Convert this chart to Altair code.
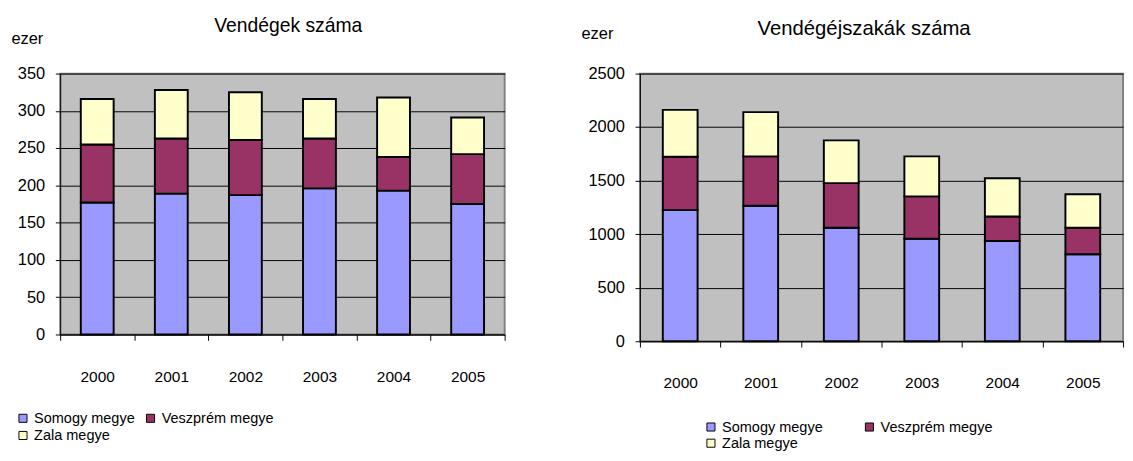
import altair as alt
import pandas as pd

years = ["2000", "2001", "2002", "2003", "2004", "2005"]
counties = ["Somogy megye", "Veszprém megye", "Zala megye"]
colors = ["#9999FF", "#993366", "#FFFFCC"]

# Vendégek száma (ezer)
guests_somogy = [177, 189, 187, 196, 193, 175]
guests_veszprem = [78, 74, 74, 67, 45, 67]
guests_zala = [61, 65, 64, 53, 80, 49]

# Vendégéjszakák száma (ezer)
nights_somogy = [1225, 1266, 1061, 957, 936, 812]
nights_veszprem = [499, 461, 416, 396, 229, 249]
nights_zala = [437, 413, 399, 374, 357, 312]

guest_ticks = [0, 50, 100, 150, 200, 250, 300, 350]
night_ticks = [0, 500, 1000, 1500, 2000, 2500]


def make_df(s, v, z):
    rows = []
    for i, y in enumerate(years):
        for k, (c, vals) in enumerate(zip(counties, [s, v, z])):
            rows.append({"year": y, "county": c, "value": vals[i], "order": k})
    return pd.DataFrame(rows)


FONT = "Liberation Sans"
BG = "#C0C0C0"
BORDER = "#808080"


def panel(df, title, ticks, w, h, bar, ezer_x, ezer_y, title_size,
          title_dx, title_offset, leg_x, leg_y, col_pad, row_pad, x_lab_pad):
    return alt.Chart(df, title=alt.TitleParams(
        title, anchor="middle", dx=title_dx, offset=title_offset,
        fontSize=title_size, fontWeight="normal", font=FONT, color="black")
    ).mark_bar(size=bar, stroke="black", strokeWidth=2).encode(
        x=alt.X("year:O", sort=years,
                scale=alt.Scale(paddingInner=0, paddingOuter=0),
                axis=alt.Axis(title=None, labelAngle=0, tickBand="extent",
                              tickSize=6, labelPadding=x_lab_pad,
                              domainColor="black",
                              tickColor="black", labelFontSize=16, labelFont=FONT,
                              labelColor="black", grid=False)),
        y=alt.Y("value:Q", stack="zero",
                scale=alt.Scale(domain=[ticks[0], ticks[-1]], nice=False),
                axis=alt.Axis(values=ticks, format="d", title="ezer",
                              titleAngle=0,
                              titleX=ezer_x, titleY=ezer_y, titleAlign="left",
                              titleBaseline="bottom",
                              titleFontSize=17,
                              titleFontWeight="normal", titleFont=FONT,
                              titleColor="black",
                              tickSize=5, labelPadding=11, labelFontSize=17,
                              labelFont=FONT, labelColor="black",
                              domainColor="black", tickColor="black",
                              gridColor="black", gridOpacity=1, gridWidth=1)),
        color=alt.Color("county:N",
                        scale=alt.Scale(domain=counties, range=colors),
                        legend=alt.Legend(title=None, orient="none",
                                          legendX=leg_x, legendY=leg_y,
                                          direction="horizontal", columns=2,
                                          columnPadding=col_pad,
                                          rowPadding=row_pad,
                                          symbolType="square", symbolSize=70,
                                          symbolStrokeColor="black",
                                          symbolStrokeWidth=1,
                                          symbolOpacity=1,
                                          labelFontSize=15, labelFont=FONT,
                                          labelColor="black", padding=0)),
        order=alt.Order("order:Q"),
    ).properties(width=w, height=h)


left = panel(make_df(guests_somogy, guests_veszprem, guests_zala),
             "Vendégek száma", guest_ticks, 460, 270, 34,
             -51, -27, 20, 6, -6, -46, 349, 8, 2, 30)
right = panel(make_df(nights_somogy, nights_veszprem, nights_zala),
              "Vendégéjszakák száma", night_ticks, 500, 277, 36,
              -61, -32, 21, -18, -14, 66, 358, 40, 1, 29)

chart = alt.hconcat(left, right, spacing=76).resolve_scale(
    y="independent", color="independent"
).configure(padding={"left": 2, "top": 0, "right": 0, "bottom": 0}
).configure_view(fill=BG, stroke=BORDER, strokeWidth=2)

chart.save("out.html", embed_options={"renderer": "svg", "actions": False})
